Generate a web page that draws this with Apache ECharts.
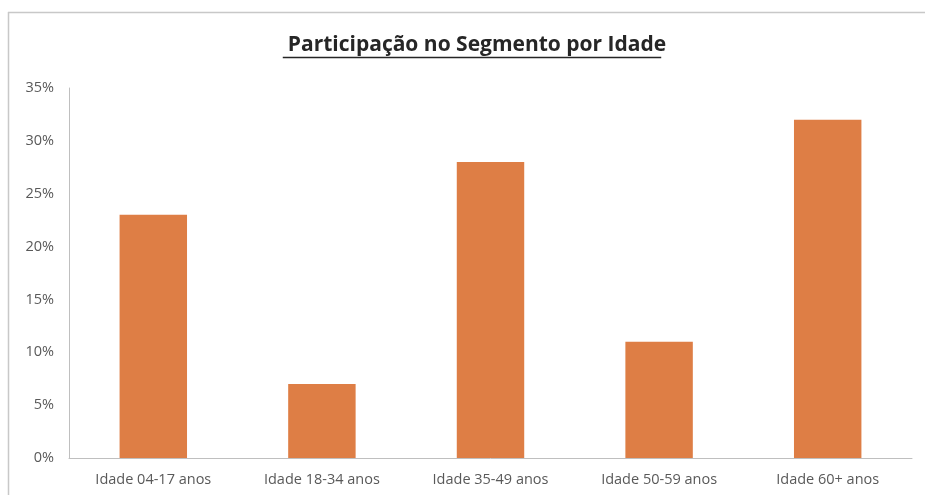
<!DOCTYPE html>
<html>
<head>
<meta charset="utf-8">
<script src="https://cdn.jsdelivr.net/npm/echarts@6/dist/echarts.min.js"></script>
<style>
html,body{margin:0;padding:0;background:#fff;}
#c{width:925px;height:495px;}
</style>
</head>
<body>
<div id="c"></div>
<script>
const titleText = "Participação no Segmento por Idade";
const categories = ["Idade 04-17 anos", "Idade 18-34 anos", "Idade 35-49 anos", "Idade 50-59 anos", "Idade 60+ anos"];
const values = [23, 7, 28, 11, 32];
const yTicks = [0, 5, 10, 15, 20, 25, 30, 35];

const chart = echarts.init(document.getElementById('c'), null, {renderer: 'canvas'});
const fontFam = '"Open Sans", "Liberation Sans", sans-serif';
const titleSize = 21;
const ctx = document.createElement('canvas').getContext('2d');
ctx.font = 'bold ' + titleSize + 'px ' + fontFam;
const tw = ctx.measureText(titleText).width;

chart.setOption({
  animation: false,
  backgroundColor: '#ffffff',
  title: {
    text: titleText,
    left: 472,
    top: 30,
    textAlign: 'center',
    textStyle: {fontFamily: fontFam, fontSize: titleSize, fontWeight: 'bold', color: '#262626'}
  },
  grid: {left: 69, right: 13, top: 88, bottom: 37, containLabel: false},
  xAxis: {
    type: 'category',
    data: categories,
    axisLine: {show: true, lineStyle: {color: '#bfbfbf', width: 1}},
    axisTick: {show: false},
    axisLabel: {color: '#595959', fontFamily: fontFam, fontSize: 14.5, margin: 14}
  },
  yAxis: {
    type: 'value',
    min: yTicks[0],
    max: yTicks[yTicks.length - 1],
    interval: 5,
    axisLine: {show: true, lineStyle: {color: '#bfbfbf', width: 1}},
    axisTick: {show: false},
    splitLine: {show: false},
    axisLabel: {color: '#595959', fontFamily: fontFam, fontSize: 14.5, margin: 15, formatter: v => v + '%'}
  },
  series: [{
    type: 'bar',
    data: values,
    barWidth: '40%',
    itemStyle: {color: '#de7e45'}
  }],
  graphic: [
    {type: 'line', shape: {x1: 8, y1: 12.5, x2: 925, y2: 12.5}, style: {stroke: '#c8c8c8', lineWidth: 1.5}, silent: true},
    {type: 'line', shape: {x1: 8.5, y1: 12, x2: 8.5, y2: 495}, style: {stroke: '#c8c8c8', lineWidth: 1.5}, silent: true},
    {type: 'line', shape: {x1: 472 - tw / 2, y1: 57.5, x2: 472 + tw / 2, y2: 57.5}, style: {stroke: '#262626', lineWidth: 1.5}, silent: true}
  ]
});
</script>
</body>
</html>
